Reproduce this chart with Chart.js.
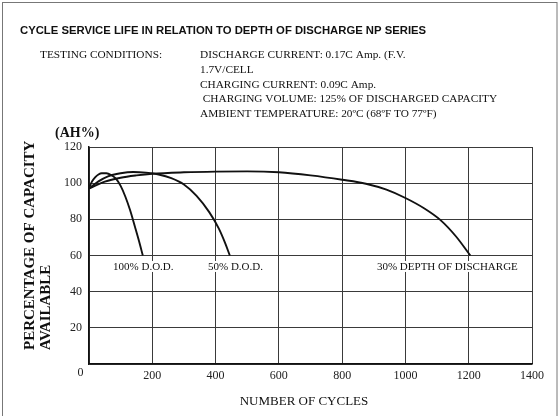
<!DOCTYPE html>
<html>
<head>
<meta charset="utf-8">
<script src="https://cdn.jsdelivr.net/npm/chart.js@4/dist/chart.umd.min.js"></script>
<style>
html,body{margin:0;padding:0;background:#fff;}
canvas{display:block;}
</style>
</head>
<body>
<canvas id="c" width="558" height="416"></canvas>
<script>
// ---- data ----
const titleText = "CYCLE SERVICE LIFE IN RELATION TO DEPTH OF DISCHARGE NP SERIES";
const conditionsLabel = "TESTING CONDITIONS:";
const conditionsLines = [
  "DISCHARGE CURRENT: 0.17C Amp. (F.V.",
  "1.7V/CELL",
  "CHARGING CURRENT: 0.09C Amp.",
  " CHARGING VOLUME: 125% OF DISCHARGED CAPACITY",
  "AMBIENT TEMPERATURE: 20\u00BAC (68\u00BAF TO 77\u00BAF)"
];
const yUnit = "(AH%)";
const yTitleLines = ["PERCENTAGE OF CAPACITY", "AVAILABLE"];
const xTitle = "NUMBER OF CYCLES";
const xTickValues = [0, 200, 400, 600, 800, 1000, 1200, 1400];
const yTickValues = [0, 20, 40, 60, 80, 100, 120];

const dod100Cycles = [0, 10, 20, 30, 40, 55, 70, 85, 100, 115, 130, 145, 158, 170];
const dod100Cap    = [97.5, 101, 103.3, 104.8, 105.5, 105.5, 104.5, 102.5, 98.5, 92.5, 85, 76, 68, 60];

const dod50Cycles = [0, 30, 60, 100, 140, 180, 220, 260, 300, 340, 380, 410, 430, 445];
const dod50Cap    = [97, 101, 103.8, 105.5, 106.2, 105.8, 104.8, 102.8, 99.3, 93, 84, 75, 67, 60];

const dod30Cycles = [0, 50, 100, 150, 200, 300, 400, 500, 600, 700, 800, 875, 940, 1000, 1060, 1110, 1160, 1205];
const dod30Cap    = [97, 100.8, 103, 104.3, 105.2, 106, 106.4, 106.5, 106, 104.3, 101.9, 99.7, 96.4, 91.8, 86, 79.7, 70.5, 60];

const curveLabels = [
  {text: "100% D.O.D.", x: 76, y: 52},
  {text: "50% D.O.D.", x: 376, y: 52},
  {text: "30% DEPTH OF DISCHARGE", x: 910, y: 52}
];

function pts(xs, ys){ return xs.map((x,i)=>({x:x, y:ys[i]})); }

const LINE = '#111';
const GRID = '#3a3a3a';

const annot = {
  id: 'annot',
  afterDraw(chart){
    const ctx = chart.ctx;
    const xs = chart.scales.x, ys = chart.scales.y;
    ctx.save();
    // outer frame
    ctx.strokeStyle = '#777';
    ctx.lineWidth = 1;
    ctx.strokeRect(2.5, 2.5, 554.5, 430);
    ctx.fillStyle = '#111';
    ctx.textBaseline = 'alphabetic';
    ctx.textAlign = 'left';
    // title
    ctx.font = 'bold 11.3px "Liberation Sans"';
    ctx.fillText(titleText, 20, 33.5);
    // conditions
    ctx.font = '11.3px "Liberation Serif"';
    ctx.fillText(conditionsLabel, 40, 57.5);
    const bl = [57.5, 72.5, 87.5, 102.3, 117];
    conditionsLines.forEach((t,i)=>ctx.fillText(t, 200, bl[i]));
    // unit
    ctx.font = 'bold 14px "Liberation Serif"';
    ctx.fillText(yUnit, 55, 136.5);
    // y title (rotated, left-aligned from bottom)
    ctx.font = 'bold 15px "Liberation Serif"';
    const ybl = [33.5, 50];
    yTitleLines.forEach((t,i)=>{
      ctx.save();
      ctx.translate(ybl[i], 350);
      ctx.rotate(-Math.PI/2);
      ctx.fillText(t, 0, 0);
      ctx.restore();
    });
    // x title
    ctx.font = '13px "Liberation Serif"';
    ctx.textAlign = 'center';
    ctx.fillText(xTitle, 304, 405);
    // origin label
    ctx.font = '12px "Liberation Serif"';
    ctx.fillStyle = '#222';
    ctx.fillText(String(yTickValues[0]), 80.5, 375.5);
    // curve labels
    ctx.font = '11px "Liberation Serif"';
    ctx.textAlign = 'left';
    curveLabels.forEach(l=>{
      const px = xs.getPixelForValue(l.x), py = ys.getPixelForValue(l.y);
      const w = ctx.measureText(l.text).width;
      ctx.fillStyle = '#fff';
      ctx.fillRect(px-2, py-9, w+4, 11);
      ctx.fillStyle = '#111';
      ctx.fillText(l.text, px, py);
    });
    ctx.restore();
  }
};

const ds = (data) => ({
  data: data,
  borderColor: LINE,
  borderWidth: 1.9,
  pointRadius: 0,
  fill: false,
  tension: 0.4,
  cubicInterpolationMode: 'monotone'
});

new Chart(document.getElementById('c'), {
  type: 'line',
  data: {
    datasets: [
      ds(pts(dod100Cycles, dod100Cap)),
      ds(pts(dod50Cycles, dod50Cap)),
      ds(pts(dod30Cycles, dod30Cap))
    ]
  },
  options: {
    responsive: false,
    animation: false,
    devicePixelRatio: 1,
    layout: {padding: {left: 0, top: 147, right: 26, bottom: 0}},
    plugins: {legend: {display: false}, tooltip: {enabled: false}, title: {display: false}},
    scales: {
      x: {
        type: 'linear',
        min: xTickValues[0], max: xTickValues[xTickValues.length-1],
        afterBuildTicks: s => { s.ticks = xTickValues.map(v=>({value:v})); },
        afterFit: s => { s.height = 52; },
        grid: {color: GRID, lineWidth: 1, drawTicks: false},
        border: {color: '#111', width: 1.5},
        ticks: {
          padding: 5,
          color: '#222',
          font: {family: 'Liberation Serif', size: 12},
          maxRotation: 0,
          callback: v => v === 0 ? '' : String(v)
        }
      },
      y: {
        type: 'linear',
        min: yTickValues[0], max: yTickValues[yTickValues.length-1],
        afterBuildTicks: s => { s.ticks = yTickValues.map(v=>({value:v})); },
        afterFit: s => { s.width = 89; },
        grid: {color: GRID, lineWidth: 1, drawTicks: false},
        border: {color: '#111', width: 1.5},
        ticks: {
          padding: 7,
          color: '#222',
          font: {family: 'Liberation Serif', size: 12},
          callback: v => v === 0 ? '' : String(v)
        }
      }
    }
  },
  plugins: [annot]
});
</script>
</body>
</html>
